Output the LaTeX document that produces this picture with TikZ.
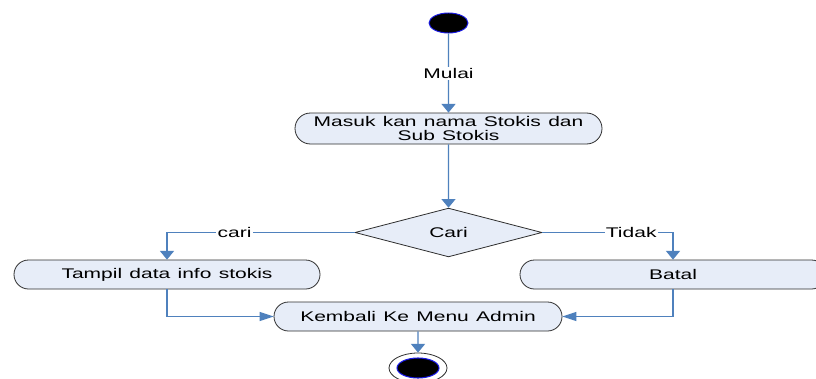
\documentclass[tikz,border=0pt]{standalone}
\usepackage{fontspec}
\setmainfont[FakeStretch=1.5,WordSpace=1.25]{Liberation Sans}
\usetikzlibrary{shapes.geometric,shapes.misc,arrows.meta}

\definecolor{flowline}{HTML}{4F81BD}
\definecolor{actfill}{HTML}{E7EDF8}
\definecolor{actedge}{HTML}{2E2E2E}
\definecolor{dotedge}{HTML}{1A1AE6}

\newcommand{\diagfont}{\fontsize{10.5}{10.5}\selectfont}

\tikzset{
  activity/.style={rounded rectangle, draw=actedge, fill=actfill, line width=0.6pt,
    inner sep=0pt, font=\diagfont, align=center},
  decision/.style={diamond, draw=actedge, fill=actfill, line width=0.6pt,
    inner sep=0pt, font=\diagfont, minimum width=140.25pt, minimum height=30.75pt},
  startdot/.style={ellipse, fill=black, draw=dotedge, line width=0.7pt,
    inner sep=0pt, minimum width=29.25pt, minimum height=15pt},
  endring/.style={ellipse, fill=white, draw=actedge, line width=0.6pt,
    inner sep=0pt, minimum width=43.5pt, minimum height=22.5pt},
  enddot/.style={ellipse, fill=black, draw=dotedge, line width=0.8pt,
    inner sep=0pt, minimum width=31.5pt, minimum height=15pt},
  flow/.style={draw=flowline, line width=0.9pt},
  vtip/.style={-{Triangle[length=6.5pt,width=10.5pt]}},
  htip/.style={-{Triangle[length=10.5pt,width=6.75pt]}},
  lbl/.style={fill=white, inner sep=1pt, font=\diagfont}
}

\begin{document}
\begin{tikzpicture}[x=0.75pt,y=-0.75pt]
  \fill[white] (0,0) rectangle (816,378);
  \useasboundingbox (0,0) rectangle (816,378);

  % states and activities
  \node[startdot] (start) at (448.5,23) {};
  \node[activity, minimum width=230.25pt, minimum height=23.25pt] (masuk) at (448.5,128.5)
    {Masuk kan nama Stokis dan\\Sub Stokis};
  \node[decision] (cari) at (448.5,232.5) {Cari};
  \node[activity, minimum width=229.5pt, minimum height=21.75pt] (tampil) at (167,274.5)
    {Tampil data info stokis};
  \node[activity, minimum width=229.5pt, minimum height=21.75pt] (batal) at (673,274.5)
    {Batal};
  \node[activity, minimum width=216pt, minimum height=21.75pt] (kembali) at (418,316.5)
    {Kembali Ke Menu Admin};
  \node[endring] (endo) at (418,368) {};
  \node[enddot] (endi) at (418,368) {};

  % transitions
  \draw[flow,vtip] (start) -- node[lbl] {Mulai} (masuk);
  \draw[flow,vtip] (masuk) -- (cari);
  \draw[flow,vtip] (cari.west) -| node[lbl, pos=0.32] {cari} (tampil.north);
  \draw[flow,vtip] (cari.east) -| node[lbl, pos=0.34] {Tidak} (batal.north);
  \draw[flow,htip] (tampil.south) |- (kembali.west);
  \draw[flow,htip] (batal.south) |- (kembali.east);
  \draw[flow,vtip] (kembali) -- (endo);
\end{tikzpicture}
\end{document}
